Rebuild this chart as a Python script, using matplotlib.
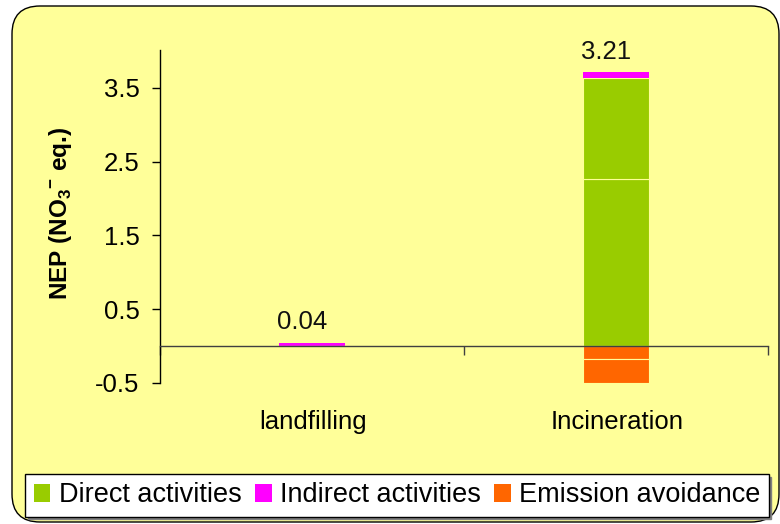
import numpy as np
import matplotlib
matplotlib.use("Agg")
import matplotlib.pyplot as plt
from matplotlib.patches import FancyBboxPatch, Patch
from matplotlib.transforms import IdentityTransform, blended_transform_factory

# --- data -------------------------------------------------------------
categories = ["landfilling", "Incineration"]
direct_a = [0.0, 2.26]       # direct activities, first contribution
direct_b = [0.0, 1.38]       # direct activities, second contribution
indirect = [0.04, 0.07]      # indirect activities
avoid_a = [0.0, -0.18]       # emission avoidance, first contribution
avoid_b = [0.0, -0.32]       # emission avoidance, second contribution
legend_labels = ["Direct activities", "Indirect activities", "Emission avoidance"]
y_ticks = [-0.5, 0.5, 1.5, 2.5, 3.5]

# --- style ------------------------------------------------------------
plt.rcParams["font.family"] = ["Liberation Sans", "DejaVu Sans"]
plt.rcParams["mathtext.fontset"] = "custom"
plt.rcParams["mathtext.rm"] = "Liberation Sans"
plt.rcParams["mathtext.bf"] = "Liberation Sans:bold"

GREEN = "#99CC00"
MAGENTA = "#FF00FF"
ORANGE = "#FF6600"
PANEL = "#FFFF99"
FS = 18.5

fig = plt.figure(figsize=(7.8, 5.24), dpi=100)
fig.patch.set_facecolor("white")

# rounded yellow chart area (pixel coordinates)
panel = FancyBboxPatch((12, 2), 767, 516,
                       boxstyle="round,pad=0,rounding_size=28",
                       transform=IdentityTransform(),
                       facecolor=PANEL, edgecolor="black", linewidth=1.0,
                       zorder=-5)
fig.add_artist(panel)

ax = fig.add_axes([160 / 780, 1 - 383 / 524, 608 / 780, 333 / 524])
ax.set_facecolor("none")

x = np.arange(len(categories))
w = 0.214
da = np.array(direct_a)
db = np.array(direct_b)
ind = np.array(indirect)
aa = np.array(avoid_a)
ab = np.array(avoid_b)

kw = dict(width=w, edgecolor=PANEL, linewidth=0.8)
ax.bar(x, da, color=GREEN, **kw)
ax.bar(x, db, bottom=da, color=GREEN, **kw)
ax.bar(x, ind, bottom=da + db, color=MAGENTA, width=w, linewidth=0)
ax.bar(x, aa, color=ORANGE, **kw)
ax.bar(x, ab, bottom=aa, color=ORANGE, **kw)

# net value labels
net = da + db + ind + aa + ab
tops = da + db + ind
for xi, t, n in zip(x, tops, net):
    ax.annotate(f"{n:.2f}", xy=(xi, t), xytext=(-7, 15),
                textcoords="offset points", ha="center", va="center",
                fontsize=FS, color="#111111")

# axes
ax.set_xlim(-0.5, 1.5)
ax.set_ylim(-0.5, 4.015)
ax.set_yticks(y_ticks)
ax.set_yticklabels([f"{v:.1f}" for v in y_ticks])
ax.tick_params(axis="y", direction="out", length=5.8, width=1,
               labelsize=FS, pad=9, colors="black")

ax.spines["top"].set_visible(False)
ax.spines["right"].set_visible(False)
ax.spines["left"].set_color("black")
ax.spines["left"].set_linewidth(1.0)
ax.spines["bottom"].set_position(("data", 0))
ax.spines["bottom"].set_color("#404040")
ax.spines["bottom"].set_linewidth(1.0)
ax.set_xticks([-0.5, 0.5, 1.5])
ax.set_xticklabels([])
ax.tick_params(axis="x", direction="out", length=6.5, width=1, color="#404040")

trans = blended_transform_factory(ax.transData, ax.transAxes)
for xi, cat in zip(x, categories):
    ax.text(xi + 0.005, -0.117, cat, transform=trans, ha="center", va="center",
            fontsize=FS)

ax.set_ylabel(r"NEP (NO$_\mathbf{3}$$^\mathbf{-}$ eq.)", fontsize=17.5,
              fontweight="bold")
ax.yaxis.set_label_coords(-0.142, 0.509)

handles = [Patch(facecolor=c, edgecolor="none") for c in (GREEN, MAGENTA, ORANGE)]
leg = fig.legend(handles, legend_labels, loc="center",
                 bbox_to_anchor=(0.509, 0.0544), ncol=3, fontsize=19.5,
                 frameon=True, fancybox=False,
                 shadow={"color": "#808080", "alpha": 1.0},
                 handlelength=0.62, handleheight=0.62, handletextpad=0.3,
                 columnspacing=0.5, borderpad=0.3, borderaxespad=0)
leg.get_frame().set_edgecolor("black")
leg.get_frame().set_linewidth(1.0)
leg.get_frame().set_facecolor("white")
leg.get_frame().set_alpha(1.0)

fig.savefig("out.png", dpi=100, facecolor=fig.get_facecolor())
